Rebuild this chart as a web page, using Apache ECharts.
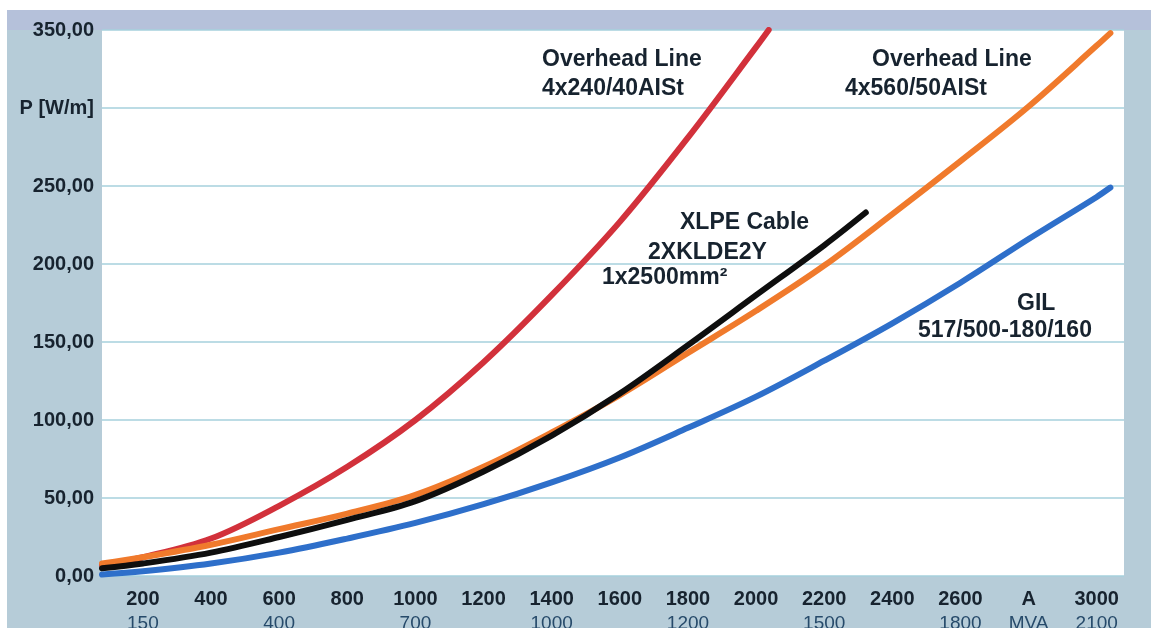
<!DOCTYPE html>
<html>
<head>
<meta charset="utf-8">
<title>Power loss per metre</title>
<script src="https://cdn.jsdelivr.net/npm/echarts@6/dist/echarts.min.js"></script>
<style>
  html, body { margin: 0; padding: 0; background: #ffffff; width: 1151px; height: 628px; overflow: hidden; }
  #chart { position: absolute; left: 7px; top: 10px; width: 1144px; height: 618px; }
</style>
</head>
<body>
<div id="chart"></div>
<script>
// Current in A (x) against power loss in W/m (y)
const ohl240Amps = [80, 200, 400, 600, 800, 1000, 1200, 1400, 1600, 1800, 2000, 2037];
const ohl240Loss = [7, 12, 24, 45, 70, 100, 137, 180, 227, 281, 339, 350];

const ohl560Amps = [80, 200, 400, 600, 800, 1000, 1200, 1400, 1600, 1800, 2000, 2200, 2400, 2600, 2800, 3000, 3040];
const ohl560Loss = [8, 12, 20, 30, 40, 52, 70, 92, 116, 143, 170, 199, 232, 266, 301, 340, 348];

const xlpeAmps = [80, 200, 400, 600, 800, 1000, 1200, 1400, 1600, 1800, 2000, 2200, 2322];
const xlpeLoss = [5, 8, 15, 25, 36, 48, 67, 90, 117, 148, 180, 212, 233];

const gilAmps = [80, 200, 400, 600, 800, 1000, 1200, 1400, 1600, 1800, 2000, 2200, 2400, 2600, 2800, 3000, 3040];
const gilLoss = [1, 3, 8, 15, 24, 34, 46, 60, 76, 95, 115, 138, 162, 188, 216, 243, 249];

// Axis ticks: current row (A) and matching transmitted power row (MVA)
const ampTicks  = [200, 400, 600, 800, 1000, 1200, 1400, 1600, 1800, 2000, 2200, 2400, 2600, 2800, 3000];
const ampLabels = ['200', '400', '600', '800', '1000', '1200', '1400', '1600', '1800', '2000', '2200', '2400', '2600', 'A', '3000'];
const mvaLabels = ['150', '', '400', '', '700', '', '1000', '', '1200', '', '1500', '', '1800', 'MVA', '2100'];
const lossTicks = [0, 50, 100, 150, 200, 250, 300, 350];
const lossAxisName = 'P [W/m]';
const lossAxisNameAt = 300;

function pairs(xs, ys) { return xs.map((x, i) => [x, ys[i]]); }

const FONT = 'Liberation Sans, Arial, Helvetica, sans-serif';
const INK = '#17232f';

const chart = echarts.init(document.getElementById('chart'), null, { renderer: 'canvas' });

function lineSeries(name, data, color, z) {
  return {
    name, type: 'line', data, smooth: 0.35, showSymbol: false, z,
    lineStyle: { color, width: 6, cap: 'round' },
    emphasis: { disabled: true }
  };
}

// Curve captions, placed by their left edge and vertical centre
function note(text, x, y) {
  return {
    type: 'text', x, y, z: 50,
    style: { text, font: 'bold 23px ' + FONT, fill: INK, textAlign: 'left', textVerticalAlign: 'middle' }
  };
}

chart.setOption({
  animation: false,
  backgroundColor: '#b6ccd8',
  grid: {
    left: 95, top: 20, right: 27, bottom: 52,
    outerBoundsMode: 'none', containLabel: false,
    show: true, backgroundColor: '#ffffff', borderWidth: 0
  },
  xAxis: {
    type: 'value', min: 80, max: 3080,
    axisLine: { show: false }, axisTick: { show: false }, splitLine: { show: false },
    axisLabel: {
      customValues: ampTicks,
      margin: 12,
      formatter: function (v) {
        const i = ampTicks.indexOf(v);
        const top = '{a|' + ampLabels[i] + '}';
        return mvaLabels[i] ? top + '\n{b|' + mvaLabels[i] + '}' : top;
      },
      rich: {
        a: { fontFamily: FONT, fontWeight: 'bold', fontSize: 20, color: INK, lineHeight: 22 },
        b: { fontFamily: FONT, fontSize: 19, color: '#264a6a', lineHeight: 27 }
      }
    }
  },
  yAxis: {
    type: 'value', min: 0, max: 350, interval: 50,
    axisLine: { show: false }, axisTick: { show: false },
    splitLine: { lineStyle: { color: '#a6d0dc', width: 1.5 } },
    axisLabel: {
      margin: 8,
      fontFamily: FONT, fontWeight: 'bold', fontSize: 20, color: INK,
      formatter: function (v) {
        if (v === lossAxisNameAt) return lossAxisName;
        return lossTicks.indexOf(v) >= 0 ? v.toFixed(2).replace('.', ',') : '';
      }
    }
  },
  graphic: [
    { type: 'rect', left: 0, top: 0, z: -1, shape: { width: 1144, height: 20 }, style: { fill: '#b5c1da' } },
    note('Overhead Line', 535, 50),
    note('4x240/40AISt', 535, 79),
    note('Overhead Line', 865, 50),
    note('4x560/50AISt', 838, 79),
    note('XLPE Cable', 673, 213),
    note('2XKLDE2Y', 641, 243),
    note('1x2500mm²', 595, 268),
    note('GIL', 1010, 294),
    note('517/500-180/160', 911, 321)
  ],
  series: [
    lineSeries('GIL 517/500-180/160', pairs(gilAmps, gilLoss), '#2e6fca', 3),
    lineSeries('Overhead Line 4x240/40AISt', pairs(ohl240Amps, ohl240Loss), '#d2313b', 4),
    lineSeries('Overhead Line 4x560/50AISt', pairs(ohl560Amps, ohl560Loss), '#f07a2c', 5),
    lineSeries('XLPE Cable 2XKLDE2Y 1x2500mm²', pairs(xlpeAmps, xlpeLoss), '#0e0e0e', 6)
  ]
});
</script>
</body>
</html>
